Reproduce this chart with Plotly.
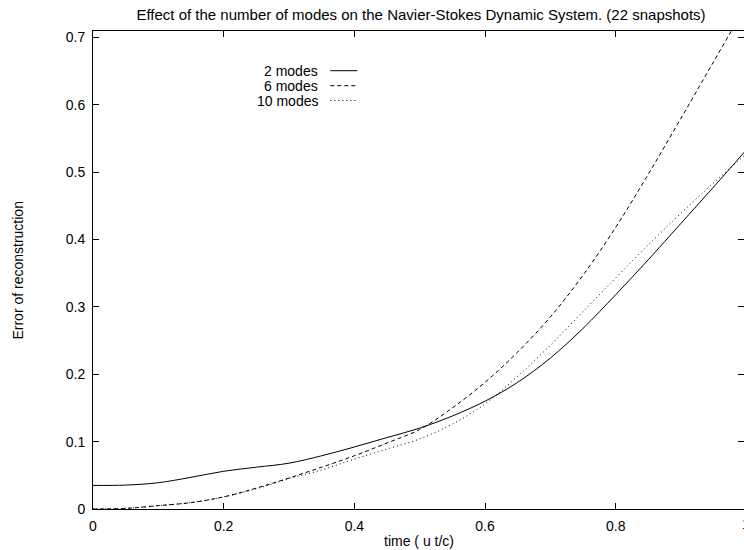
import plotly.graph_objects as go

# ---- data ----
time = [0.0, 0.05, 0.1, 0.15, 0.2, 0.25, 0.3, 0.35, 0.4, 0.45, 0.5,
        0.55, 0.6, 0.65, 0.7, 0.75, 0.8, 0.85, 0.9, 0.95, 1.0]
modes2 = [0.035, 0.0355, 0.039, 0.047, 0.056, 0.062, 0.068, 0.079, 0.092, 0.106, 0.120,
          0.138, 0.160, 0.188, 0.224, 0.268, 0.318, 0.370, 0.424, 0.478, 0.533]
modes6 = [0.0, 0.001, 0.005, 0.0095, 0.018, 0.031, 0.046, 0.062, 0.079, 0.098, 0.118,
          0.150, 0.188, 0.233, 0.285, 0.347, 0.418, 0.497, 0.580, 0.664, 0.748]
modes10 = [0.0, 0.001, 0.005, 0.0095, 0.018, 0.030, 0.045, 0.058, 0.074, 0.089, 0.104,
           0.126, 0.156, 0.197, 0.243, 0.293, 0.343, 0.392, 0.439, 0.484, 0.527]
series_names = ["2 modes", "6 modes", "10 modes"]
series_dash = ["solid", "4px,3px", "1px,3px"]
x_ticks = [0, 0.2, 0.4, 0.6, 0.8, 1]
y_ticks = [0, 0.1, 0.2, 0.3, 0.4, 0.5, 0.6, 0.7]
title_text = "Effect of the number of modes on the Navier-Stokes Dynamic System. (22 snapshots)"
x_title = "time ( u t/c)"
y_title = "Error of reconstruction"

W, H = 744, 550
ML, MR, MT, MB = 92.5, 0, 31, 41
X_MAX = 0.9963
Y_MAX = 0.7092
FONT = "Liberation Sans, Arial, sans-serif"
FS = 14

fig = go.Figure()
for name, ys, dash in zip(series_names, [modes2, modes6, modes10], series_dash):
    fig.add_trace(go.Scatter(x=time, y=ys, mode="lines", name=name,
                             line=dict(color="black", width=1, dash=dash, shape="spline", smoothing=1.0),
                             showlegend=False, cliponaxis=True))

axis_common = dict(showgrid=False, zeroline=False, showline=True, linecolor="black", linewidth=1,
                   mirror="allticks", ticks="inside", ticklen=6, tickwidth=1, tickcolor="black",
                   tickfont=dict(family=FONT, size=FS, color="black"))
fig.update_xaxes(range=[0, X_MAX], tickvals=x_ticks, ticktext=[str(t) for t in x_ticks],
                 ticklabelstandoff=4, **axis_common)
fig.update_yaxes(range=[0, Y_MAX], tickvals=y_ticks, ticktext=[str(t) for t in y_ticks],
                 ticklabelstandoff=4, **axis_common)

plot_w = W - ML - MR
plot_h = H - MT - MB

fig.add_annotation(x=1 / X_MAX, y=0, xref="paper", yref="paper", text="1", showarrow=False,
                   xanchor="center", yanchor="top", yshift=-5, font=dict(family=FONT, size=FS, color="black"))
fig.add_annotation(x=0.5, y=0, xref="paper", yref="paper", text=x_title, showarrow=False,
                   xanchor="center", yanchor="top", yshift=-22, font=dict(family=FONT, size=FS, color="black"))
fig.add_annotation(x=(17 - ML) / plot_w, y=0.5, xref="paper", yref="paper", text=y_title, showarrow=False,
                   textangle=-90, xanchor="center", yanchor="middle",
                   font=dict(family=FONT, size=FS, color="black"))

# legend (text left of the sample line)
leg_rows_px = [70.7, 85.7, 100.5]
shapes = []
for name, dash, ypx in zip(series_names, series_dash, leg_rows_px):
    yp = 1 - (ypx - MT) / plot_h
    fig.add_annotation(x=(320 - ML) / plot_w, y=yp, xref="paper", yref="paper", text=name,
                       showarrow=False, xanchor="right", yanchor="middle",
                       font=dict(family=FONT, size=FS, color="black"))
    shapes.append(dict(type="line", xref="paper", yref="paper",
                       x0=(330 - ML) / plot_w, x1=(357 - ML) / plot_w, y0=yp, y1=yp,
                       line=dict(color="black", width=1, dash=dash)))

fig.update_layout(
    width=W, height=H,
    margin=dict(l=ML, r=MR, t=MT, b=MB, pad=0),
    paper_bgcolor="white", plot_bgcolor="white",
    title=dict(text=title_text, x=421 / W, xanchor="center", y=1 - 15 / H, yanchor="middle",
               font=dict(family=FONT, size=15, color="black")),
    shapes=shapes,
    showlegend=False,
)

fig.write_html("out.html")
